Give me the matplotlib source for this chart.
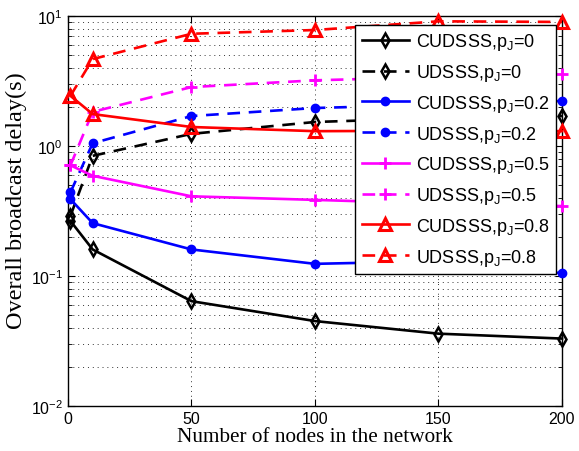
import numpy as np
import matplotlib
matplotlib.use("Agg")
import matplotlib.pyplot as plt
from matplotlib.ticker import LogLocator, FixedLocator, NullLocator

# number of nodes in the network
nodes = [1, 10, 50, 100, 150, 200]

# overall broadcast delay (s) for each scheme / jamming probability
cudsss_p0 = [0.265, 0.16, 0.064, 0.045, 0.036, 0.033]
udsss_p0 = [0.29, 0.84, 1.24, 1.53, 1.64, 1.70]
cudsss_p02 = [0.39, 0.255, 0.16, 0.124, 0.13, 0.105]
udsss_p02 = [0.44, 1.05, 1.70, 1.96, 2.08, 2.22]
cudsss_p05 = [0.71, 0.59, 0.41, 0.385, 0.36, 0.345]
udsss_p05 = [0.71, 1.83, 2.84, 3.20, 3.40, 3.60]
cudsss_p08 = [2.43, 1.76, 1.40, 1.30, 1.31, 1.30]
udsss_p08 = [2.43, 4.66, 7.30, 7.80, 9.10, 9.00]

labels = [
    "CUDSSS,p$_\\mathregular{J}$=0", "UDSSS,p$_\\mathregular{J}$=0",
    "CUDSSS,p$_\\mathregular{J}$=0.2", "UDSSS,p$_\\mathregular{J}$=0.2",
    "CUDSSS,p$_\\mathregular{J}$=0.5", "UDSSS,p$_\\mathregular{J}$=0.5",
    "CUDSSS,p$_\\mathregular{J}$=0.8", "UDSSS,p$_\\mathregular{J}$=0.8",
]

plt.rcParams["font.family"] = ["Liberation Sans", "DejaVu Sans"]
plt.rcParams["mathtext.default"] = "regular"

fig = plt.figure(figsize=(5.79, 4.52), dpi=100)
ax = fig.add_axes([0.1174, 0.0996, 0.8532, 0.8628])

dash = (4.8, 3.3)
series = [
    (cudsss_p0, "k", "d", None, dict(ms=7.5, mfc="none", mew=1.8)),
    (udsss_p0, "k", "d", dash, dict(ms=7.5, mfc="none", mew=1.8)),
    (cudsss_p02, "b", "o", None, dict(ms=6, mfc="b")),
    (udsss_p02, "b", "o", dash, dict(ms=6, mfc="b")),
    (cudsss_p05, "#ff00ff", "+", None, dict(ms=8, mew=2)),
    (udsss_p05, "#ff00ff", "+", dash, dict(ms=8, mew=2)),
    (cudsss_p08, "r", "^", None, dict(ms=9, mfc="none", mew=2.2)),
    (udsss_p08, "r", "^", dash, dict(ms=9, mfc="none", mew=2.2)),
]

for (vals, col, mk, ds, kw), lab in zip(series, labels):
    line, = ax.plot(nodes, vals, color=col, marker=mk, lw=1.9, label=lab,
                    clip_on=False, zorder=3, **kw)
    if ds is not None:
        line.set_dashes(ds)

ax.set_yscale("log")
ax.set_xlim(0, 200)
ax.set_ylim(1e-2, 1e1)
ax.xaxis.set_major_locator(FixedLocator([0, 50, 100, 150, 200]))
ax.xaxis.set_minor_locator(NullLocator())
ax.yaxis.set_major_locator(LogLocator(base=10, numticks=10))
ax.yaxis.set_minor_locator(LogLocator(base=10, subs=np.arange(2, 10), numticks=20))

ax.tick_params(which="both", direction="in", top=True, right=True, labelsize=11.5)
ax.tick_params(which="major", length=5, width=0.8)
ax.tick_params(which="minor", length=3, width=0.6)
for sp in ax.spines.values():
    sp.set_linewidth(1.0)

# sparse dotted grid, minor lines only on the log axis
for which, axis in (("major", "both"), ("minor", "y")):
    ax.grid(True, which=which, axis=axis, color="k", lw=0.7, alpha=0.8,
            dashes=(1, 4))
ax.set_axisbelow(True)

serif = ["Liberation Serif", "DejaVu Serif"]
ax.set_xlabel("Number of nodes in the network", family=serif, fontsize=15.3, labelpad=1)
ax.set_ylabel("Overall broadcast delay(s)", family=serif, fontsize=17.5)
ax.yaxis.set_label_coords(-0.083, 0.53)

leg = ax.legend(loc="upper right", bbox_to_anchor=(0.988, 0.977), borderaxespad=0,
                fontsize=13, handlelength=2.6, labelspacing=0.54, handletextpad=0.4,
                borderpad=0.35, fancybox=False, framealpha=1, edgecolor="k")
leg.get_frame().set_linewidth(1.0)
leg.set_zorder(5)

fig.savefig("out.png", dpi=100)
